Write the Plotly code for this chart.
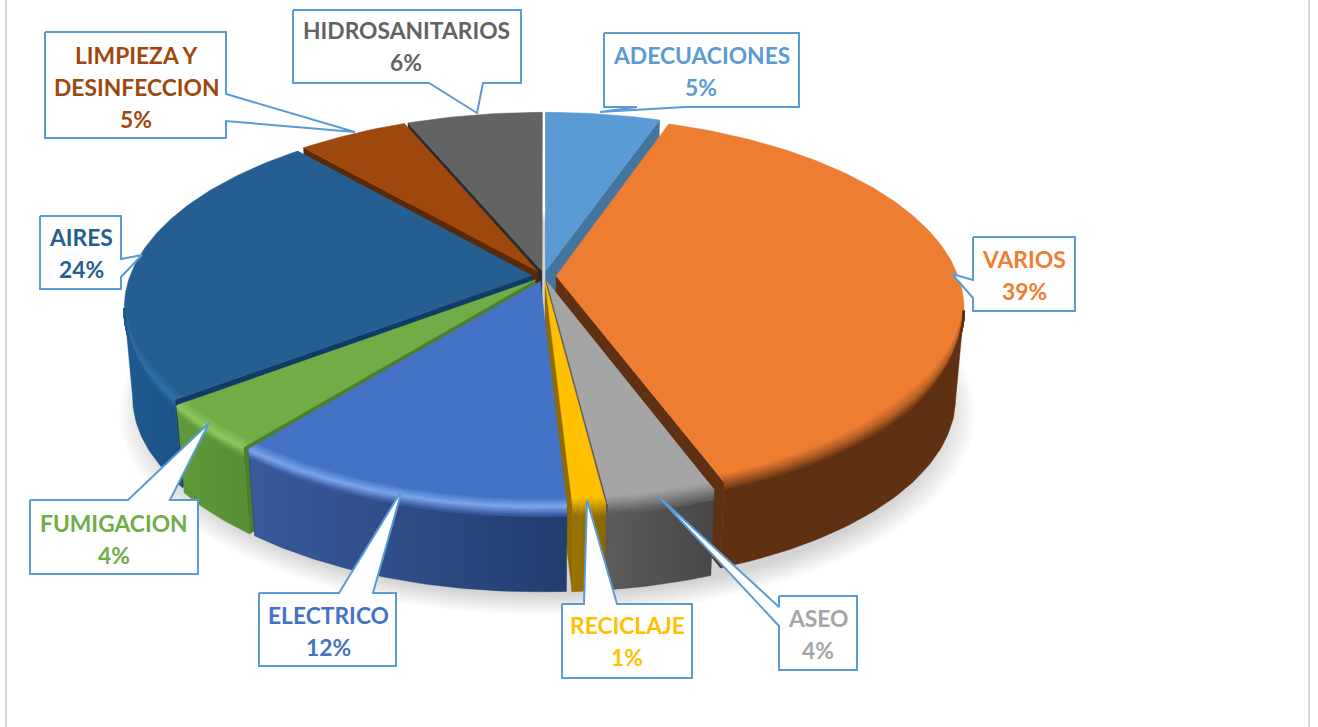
import math
import plotly.graph_objects as go

# ---- data (shares in %, shown rounded on the labels) ----
categories = ["ADECUACIONES", "VARIOS", "ASEO", "RECICLAJE", "ELECTRICO",
              "FUMIGACION", "AIRES", "LIMPIEZA Y\nDESINFECCION", "HIDROSANITARIOS"]
values = [5.33, 39.0, 3.67, 1.1, 11.7, 3.9, 23.85, 5.15, 6.3]

# ---- styles ----
top_colors = ["#5b9bd5", "#ed7d31", "#a5a5a5", "#ffc000", "#4472c4", "#70ad47", "#255e91", "#9e480e", "#636363"]
side_left = ["#44759f", "#5f3112", "#5c5c5c", "#9a7400", "#3a5a9e", "#5f9a3a", "#1d5a90", "#5a2908", "#2c2c2c"]
side_right = ["#44759f", "#5f3112", "#474747", "#8a6800", "#233d6e", "#578f35", "#1c5384", "#5a2908", "#2c2c2c"]
wall_colors = ["#44759f", "#5f3112", "#5a5a5a", "#8f6c00", "#27406f", "#4d7e2c", "#0f3c66", "#5a2908", "#2c2c2c"]
rim_glow = [None, None, None, None, "#7aa6ee", "#90c862", "#2f72ad", None, None]

# ---- view of the pie in the page's pixel space ----
CX, CY, RX, RY, PERSP, DROP, SHRINK, EXPLODE = 544, 276, 402, 186, 0.165, 90, 0.02, 0.03


def project(X, Y, z=0.0):
    s = 1 / (1 + PERSP * Y) * (1 - SHRINK * z)
    return CX + RX * X * s, CY + DROP * z - RY * Y * s


def hex_rgb(c):
    return tuple(int(c[i:i + 2], 16) for i in (1, 3, 5))


def mix(a, b, t):
    ra, rb = hex_rgb(a), hex_rgb(b)
    return "#%02x%02x%02x" % tuple(round(p + (q - p) * t) for p, q in zip(ra, rb))


fig = go.Figure()


def poly(pts, fill, line=None, width=0, **kw):
    fig.add_trace(go.Scatter(
        x=[p[0] for p in pts] + [pts[0][0]], y=[p[1] for p in pts] + [pts[0][1]],
        mode="lines", fill="toself", fillcolor=fill,
        line=dict(color=line or fill, width=width), hoverinfo="skip", showlegend=False, **kw))


total = sum(values)
angles = [0.0]
for v in values:
    angles.append(angles[-1] + 360.0 * v / total)

# soft shadow under the pie
for k in range(9):
    grow = 1.035 - 0.009 * k
    ring = []
    for d in range(0, 360, 3):
        t = math.radians(d)
        ring.append(project(math.sin(t) * grow * 1.03, math.cos(t) * grow * 1.03 - 0.015, 1.0))
    poly([(x + 3, y + 9) for x, y in ring], "rgba(60,60,60,0.028)")


def depth(i):
    a0, a1 = angles[i], angles[i + 1]
    if a0 <= 180 <= a1:
        return 0
    return min(abs(a0 - 180), abs(a1 - 180))


order = sorted(range(len(values)), key=depth, reverse=True)
camY = -1 / PERSP

for i in order:
    a0, a1 = angles[i], angles[i + 1]
    mid = math.radians((a0 + a1) / 2)
    ox, oy = EXPLODE * math.sin(mid), EXPLODE * math.cos(mid)
    n = max(2, int(a1 - a0) + 1)
    degs = [a0 + (a1 - a0) * j / (n - 1) for j in range(n)]


    def rim(d, z=0.0, r=1.0):
        t = math.radians(d)
        return project(ox + r * math.sin(t), oy + r * math.cos(t), z)


    apex_t, apex_b = project(ox, oy, 0), project(ox, oy, 1)
    # radial cut faces, only when they turn toward the viewer
    for d, sign in ((a0, -1), (a1, 1)):
        t = math.radians(d)
        nx, ny = sign * math.cos(t), -sign * math.sin(t)
        if nx * (0 - ox) + ny * (camY - oy) > 0:
            poly([apex_t, rim(d), rim(d, 1), apex_b], wall_colors[i], width=0.5)
    # outer wall
    vis = [d for d in degs if math.cos(math.radians(d)) * (camY - math.cos(math.radians(d)) - oy)
           - math.sin(math.radians(d)) * (math.sin(math.radians(d)) + ox) > 0]
    if len(vis) > 1:
        pts = [rim(d) for d in vis] + [rim(d, 1) for d in reversed(vis)]
        xs = [p[0] for p in pts]
        fig.add_trace(go.Scatter(
            x=xs + [xs[0]], y=[p[1] for p in pts] + [pts[0][1]], mode="lines", fill="toself",
            fillgradient=dict(type="horizontal", colorscale=[[0, side_left[i]], [1, side_right[i]]]),
            line=dict(color=side_right[i], width=0.5), hoverinfo="skip", showlegend=False))
    # top face
    poly([apex_t] + [rim(d) for d in degs], top_colors[i], width=0.5)
    # bevel between the top face and the wall, tapering away where the wall turns out of sight
    if len(vis) > 1:
        steps = 14
        for k in range(steps):
            u = k / (steps - 1)
            glow = rim_glow[i]
            if glow:
                col = mix(top_colors[i], glow, u / 0.5) if u < 0.5 else mix(glow, side_left[i], (u - 0.5) / 0.5)
            else:
                col = mix(top_colors[i], side_left[i], u)
            line_pts = []
            for d in vis:
                taper = min(1.0, abs(math.cos(math.radians(d)) + PERSP) / 0.45)
                z = 0.11 * max(0, u - 0.45) / 0.55 * taper
                r = 1 - 0.03 * max(0, 0.45 - u) / 0.45 * taper
                line_pts.append(rim(d, z, r))
            fig.add_trace(go.Scatter(
                x=[p[0] for p in line_pts], y=[p[1] for p in line_pts], mode="lines",
                line=dict(color=col, width=2.2), hoverinfo="skip", showlegend=False))

# callouts: outline in page pixels, in slice order
callouts = [
    [(604, 33), (799, 33), (799, 107), (685, 107), (600, 112), (637, 107), (604, 107)],
    [(973, 237), (1075, 237), (1075, 311), (973, 311), (973, 298), (952, 274), (973, 280)],
    [(779, 596), (857, 596), (857, 670), (779, 670), (779, 626), (657, 495), (779, 607)],
    [(562, 604), (584, 604), (587, 500), (617, 604), (692, 604), (692, 678), (562, 678)],
    [(259, 593), (339, 593), (402, 490), (373, 593), (396, 593), (396, 666), (259, 666)],
    [(30, 500), (128, 500), (209, 423), (170, 500), (198, 500), (198, 574), (30, 574)],
    [(40, 216), (121, 216), (121, 259), (142, 255), (121, 277), (121, 289), (40, 289)],
    [(45, 32), (226, 32), (226, 94), (355, 132), (226, 121), (226, 138), (45, 138)],
    [(293, 10), (521, 10), (521, 83), (483, 83), (477, 113), (429, 83), (293, 83)],
]
text_x = [701, 1024, 818, 627, 328, 114, 81, 136, 406]
text_y = [55, 259, 618, 625, 615, 523, 237, 55, 30]
LINE = 32

annotations = []
for i, outline in enumerate(callouts):
    poly(outline, "#ffffff", "#5b9bd5", 2)
    lines = categories[i].split("\n") + [f"{round(values[i])}%"]
    for j, txt in enumerate(lines):
        annotations.append(dict(
            x=text_x[i], y=text_y[i] + j * LINE, text=f"<b>{txt}</b>", showarrow=False,
            xanchor="center", yanchor="middle", xref="x", yref="y",
            font=dict(family="Lato", size=22.8, color=top_colors[i])))

frame = [dict(type="line", x0=x, x1=x, y0=0, y1=727, xref="x", yref="y",
              line=dict(color="#d9d9d9", width=2)) for x in (6, 1309)]

fig.update_layout(
    width=1318, height=727, margin=dict(l=0, r=0, t=0, b=0),
    paper_bgcolor="#ffffff", plot_bgcolor="#ffffff", showlegend=False,
    xaxis=dict(range=[0, 1318], visible=False, fixedrange=True),
    yaxis=dict(range=[727, 0], visible=False, fixedrange=True),
    annotations=annotations, shapes=frame)

fig.write_html("out.html", config=dict(displayModeBar=False),
               post_script="document.body.style.margin='0';document.body.style.overflow='hidden';")
